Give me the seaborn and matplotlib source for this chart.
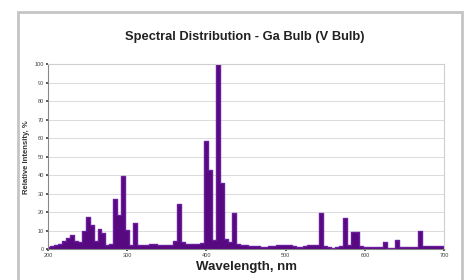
import numpy as np
import pandas as pd
import matplotlib
matplotlib.use('Agg')
import matplotlib.pyplot as plt
from matplotlib.patches import Rectangle
import seaborn as sns

# wavelength bins, 5 nm apart (centre of each bin)
wavelengths = list(range(200, 705, 5))

# relative intensity (%), one value per bin
intensity = [
    1, 1.5, 2, 3, 4.5, 6, 7.5, 4.5, 4,            # 200-240
    10, 17.5, 13, 4.5, 11, 8.5, 2.5, 3,           # 245-280
    27, 18.5, 39.5, 10.5, 2, 14,                  # 285-310
    2.5, 2, 2, 3, 3, 2.5, 2, 2, 2.5,              # 315-355
    4.5, 24.5, 4, 3, 3, 3, 3, 3.5,                # 360-395
    58.5, 43, 5, 100, 35.5, 5.5, 4, 19.5,         # 400-435
    3, 2.5, 2, 1.5, 1.5, 1.5, 1.2, 1.2, 1.5, 1.5, # 440-485
    2, 2, 2.5, 2, 1.5, 1.2, 1.2, 1.5, 2.5, 2.5, 2,# 490-540
    19.5, 1.5, 1.2, 0.8, 1, 1.5,                  # 545-570
    17, 2, 9.5, 9.5, 1.5, 1.2, 1, 1, 1, 1,        # 575-620
    4, 0.5, 0.8, 5, 1, 1, 1, 1, 1,                # 625-665
    10, 1.5, 1.5, 1.5, 1.5, 1.5, 1.5,             # 670-700
]

x_ticks = [200, 300, 400, 500, 600, 700]
y_ticks = list(range(0, 101, 10))

df = pd.DataFrame({'wavelength': wavelengths, 'intensity': intensity})

sns.set_theme(style='whitegrid')
plt.rcParams['font.family'] = ['Liberation Sans', 'DejaVu Sans']

fig = plt.figure(figsize=(4.66, 2.8), dpi=100)
fig.patch.set_facecolor('white')

# grey frame round the whole chart
fig.patches.append(Rectangle((18 / 466, -0.05), 444 / 466, 0.05 + 268 / 280,
                             transform=fig.transFigure, fill=False,
                             edgecolor='#c4c4c4', linewidth=2))

ax = fig.add_axes([0.103, 0.11, 0.85, 0.661])

purple = '#57097f'
ax.fill_between(df['wavelength'], df['intensity'], step='mid',
                color=purple, linewidth=0)
sns.lineplot(data=df, x='wavelength', y='intensity', ax=ax,
             drawstyle='steps-mid', color='#6c1c9e', linewidth=1)

ax.set_xlim(200, 700)
ax.set_ylim(0, 100)
ax.set_xticks(x_ticks)
ax.set_yticks(y_ticks)
ax.tick_params(axis='both', labelsize=4, colors='#444444', length=1.5, pad=1.5)
ax.tick_params(axis='y', left=True)
ax.tick_params(axis='x', bottom=True)

ax.grid(axis='x', visible=False)
ax.grid(axis='y', color='#d6d6d6', linewidth=0.6)
for side in ['top', 'right']:
    ax.spines[side].set_color('#cfcfcf')
    ax.spines[side].set_linewidth(0.8)
ax.spines['left'].set_color('#888888')
ax.spines['left'].set_linewidth(0.8)
ax.spines['bottom'].set_color('#888888')
ax.spines['bottom'].set_linewidth(0.8)

ax.set_xlabel('Wavelength, nm', fontsize=9.5, fontweight='bold', color='#222222', labelpad=2)
ax.set_ylabel('Relative Intensity, %', fontsize=5.5, fontweight='bold', color='#333333', labelpad=3)

fig.text(0.526, 0.868, 'Spectral Distribution - Ga Bulb (V Bulb)',
         ha='center', va='center', fontsize=9.3, fontweight='bold', color='#222222')

fig.savefig('out.png', dpi=100, facecolor='white')
